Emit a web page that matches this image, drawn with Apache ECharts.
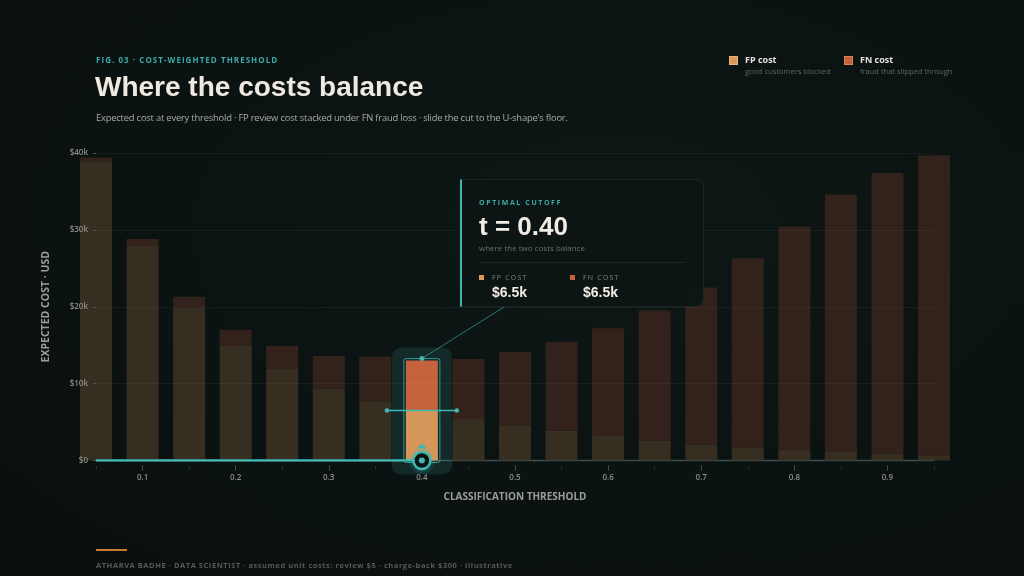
<!DOCTYPE html>
<html>
<head>
<meta charset="utf-8">
<title>Where the costs balance</title>
<script src="https://cdn.jsdelivr.net/npm/echarts@6/dist/echarts.min.js"></script>
<style>
  html, body {
    margin: 0;
    padding: 0;
    background: #0b1312;
    overflow: hidden;
  }
  .page {
    position: relative;
    width: 1024px;
    height: 576px;
    background: radial-gradient(ellipse at 60% 40%, #0d1716 0%, #0b1312 55%, #090f0e 100%);
  }
  #chart {
    position: absolute;
    left: 0;
    top: 0;
    width: 1024px;
    height: 576px;
  }
  .t {
    position: absolute;
    white-space: nowrap;
    line-height: 1;
    font-family: "Open Sans", sans-serif;
    pointer-events: none;
  }
  .caps {
    font-weight: 700;
    text-transform: uppercase;
  }
  .sq {
    position: absolute;
    box-sizing: border-box;
  }
  .card {
    position: absolute;
    left: 460px;
    top: 179px;
    width: 244px;
    height: 128px;
    box-sizing: border-box;
    background: rgba(12, 22, 21, 0.96);
    border: 1px solid rgba(255, 255, 255, 0.07);
    border-left: 2px solid #3fb8b3;
    border-radius: 0 8px 8px 0;
  }
</style>
</head>
<body>
<div class="page">
  <div id="chart"></div>

  <!-- header -->
  <div class="t caps" style="left:96px;top:56px;font-size:8px;letter-spacing:1.05px;color:#3aa9a6;">Fig. 03 · Cost-weighted threshold</div>
  <div class="t" style="left:95px;top:73px;font-size:28px;font-weight:700;font-family:'Liberation Sans',Arial,sans-serif;color:#efe9e0;">Where the costs balance</div>
  <div class="t" style="left:96px;top:113px;font-size:9.4px;letter-spacing:-0.2px;color:#a8aaa5;">Expected cost at every threshold · FP review cost stacked under FN fraud loss · slide the cut to the U-shape's floor.</div>

  <!-- legend -->
  <div class="sq" style="left:729px;top:56px;width:9px;height:9px;background:#d99858;border:1px solid #eab07a;"></div>
  <div class="t" style="left:745px;top:54.5px;font-size:9px;font-weight:700;color:#e6e1d8;">FP cost</div>
  <div class="t" style="left:745px;top:68px;font-size:7.5px;color:#5f6461;">good customers blocked</div>
  <div class="sq" style="left:844px;top:56px;width:9px;height:9px;background:#c6623b;border:1px solid #de8058;"></div>
  <div class="t" style="left:860px;top:54.5px;font-size:9px;font-weight:700;color:#e6e1d8;">FN cost</div>
  <div class="t" style="left:860px;top:68px;font-size:7.5px;color:#5f6461;">fraud that slipped through</div>

  <!-- callout card -->
  <div class="card">
    <div class="t caps" style="left:17px;top:19px;font-size:7px;letter-spacing:1.6px;color:#3aa9a6;">Optimal cutoff</div>
    <div class="t" id="cardT" style="left:17px;top:33px;font-size:26px;font-weight:700;font-family:'Liberation Sans',Arial,sans-serif;color:#f1ece4;"></div>
    <div class="t" style="left:17px;top:63.5px;font-size:8px;color:#6a6e6b;">where the two costs balance</div>
    <div style="position:absolute;left:17px;top:82px;width:207px;height:1px;background:rgba(255,255,255,0.08);"></div>
    <div class="sq" style="left:17px;top:94.5px;width:5px;height:5px;background:#d99858;"></div>
    <div class="t caps" style="left:30px;top:93.5px;font-size:7px;font-weight:400;letter-spacing:1.2px;color:#7e817d;">FP cost</div>
    <div class="t" id="cardFP" style="left:30px;top:104.5px;font-size:14px;font-weight:700;font-family:'Liberation Sans',Arial,sans-serif;color:#f1ece4;"></div>
    <div class="sq" style="left:108px;top:94.5px;width:5px;height:5px;background:#c6623b;"></div>
    <div class="t caps" style="left:121px;top:93.5px;font-size:7px;font-weight:400;letter-spacing:1.2px;color:#7e817d;">FN cost</div>
    <div class="t" id="cardFN" style="left:121px;top:104.5px;font-size:14px;font-weight:700;font-family:'Liberation Sans',Arial,sans-serif;color:#f1ece4;"></div>
  </div>

  <!-- footer -->
  <div style="position:absolute;left:96px;top:549px;width:31px;height:2px;background:#c77a30;"></div>
  <div class="t" style="left:96px;top:561.5px;font-size:7.5px;font-weight:700;letter-spacing:0.55px;color:#565b58;">ATHARVA BADHE · DATA SCIENTIST · assumed unit costs: review $5 · charge-back $300 · illustrative</div>
</div>

<script>
// thresholds (x categories) and expected cost per threshold, USD
const thresholds = ['0.05', '0.10', '0.15', '0.20', '0.25', '0.30', '0.35', '0.40', '0.45', '0.50',
  '0.55', '0.60', '0.65', '0.70', '0.75', '0.80', '0.85', '0.90', '0.95']
const fpCost = [38900, 27900, 19900, 14900, 11900, 9400, 7700, 6500, 5400, 4600,
  3900, 3300, 2600, 2100, 1700, 1400, 1100, 900, 650]
const fnCost = [500, 900, 1400, 2100, 3000, 4200, 5800, 6500, 7800, 9500,
  11500, 13900, 16900, 20400, 24600, 29000, 33500, 36500, 39050]
const optimalT = '0.40'

// colours
const TEAL = '#3fb8b3'
const FP_DIM = '#372e22'
const FN_DIM = '#33221b'
const FP_HI = '#d69659'
const FN_HI = '#c4633d'
const AXIS_TEXT = '#8c8e89'

// where the connector meets the callout card (pixels)
const cardAnchor = [504, 307]

const opt = thresholds.indexOf(optimalT)
const fmtK = v => '$' + (v / 1000).toFixed(1) + 'k'

document.getElementById('cardT').textContent = 't = ' + optimalT
document.getElementById('cardFP').textContent = fmtK(fpCost[opt])
document.getElementById('cardFN').textContent = fmtK(fnCost[opt])

// highlighted panel behind the optimal bar
function renderPanel(params, api) {
  const base = api.coord([api.value(0), 0])
  const top = api.coord([api.value(0), api.value(2)])
  return {
    type: 'rect',
    shape: { x: base[0] - 30, y: top[1] - 13, width: 60, height: base[1] - top[1] + 27, r: 9 },
    style: { fill: 'rgba(58,168,163,0.15)' }
  }
}

// outline, balance marker, connector and slider knob
function renderFront(params, api) {
  const base = api.coord([api.value(0), 0])
  const mid = api.coord([api.value(0), api.value(1)])
  const top = api.coord([api.value(0), api.value(2)])
  const x = base[0]
  const y0 = base[1]
  return {
    type: 'group',
    children: [
      { type: 'rect', shape: { x: x - 18, y: top[1] - 2, width: 36, height: y0 - top[1] + 4, r: 2 },
        style: { fill: 'none', stroke: 'rgba(63,184,179,0.75)', lineWidth: 1 } },
      { type: 'line', shape: { x1: x, y1: top[1] - 2, x2: cardAnchor[0], y2: cardAnchor[1] },
        style: { stroke: 'rgba(63,184,179,0.6)', lineWidth: 1 } },
      { type: 'circle', shape: { cx: x, cy: top[1] - 2, r: 2.5 }, style: { fill: TEAL } },
      { type: 'line', shape: { x1: x - 35, y1: mid[1], x2: x + 35, y2: mid[1] },
        style: { stroke: TEAL, lineWidth: 1.5 } },
      { type: 'circle', shape: { cx: x - 35, cy: mid[1], r: 2.2 }, style: { fill: TEAL } },
      { type: 'circle', shape: { cx: x + 35, cy: mid[1], r: 2.2 }, style: { fill: TEAL } },
      { type: 'polygon', shape: { points: [[x - 5, y0 - 12], [x + 5, y0 - 12], [x, y0 - 17]] },
        style: { fill: TEAL } },
      { type: 'circle', shape: { cx: x, cy: y0, r: 13 }, style: { fill: 'rgba(63,184,179,0.16)' } },
      { type: 'circle', shape: { cx: x, cy: y0, r: 8.5 }, style: { fill: '#0b1413', stroke: TEAL, lineWidth: 2.5 } },
      { type: 'circle', shape: { cx: x, cy: y0, r: 3 }, style: { fill: TEAL } }
    ]
  }
}

const chart = echarts.init(document.getElementById('chart'), null, { renderer: 'canvas' })

chart.setOption({
  animation: false,
  backgroundColor: 'transparent',
  textStyle: { fontFamily: 'Open Sans' },
  grid: { left: 96, right: 90, top: 153, bottom: 115.5 },
  xAxis: [
    {
      // axis line only
      type: 'category',
      data: thresholds,
      boundaryGap: false,
      axisLine: { lineStyle: { color: 'rgba(120,150,150,0.4)', width: 1.3 } },
      axisTick: { show: false },
      axisLabel: { show: false }
    },
    {
      // major ticks + labels every 0.1
      type: 'category',
      data: thresholds,
      boundaryGap: false,
      position: 'bottom',
      offset: 5,
      axisLine: { show: false },
      axisTick: { show: true, length: 5, interval: i => i % 2 === 1, lineStyle: { color: '#4d5654' } },
      axisLabel: {
        interval: i => i % 2 === 1,
        formatter: v => String(parseFloat(v)),
        color: AXIS_TEXT, fontSize: 8, fontWeight: 600, margin: 8
      },
      name: 'CLASSIFICATION THRESHOLD',
      nameLocation: 'middle',
      nameGap: 27,
      nameTextStyle: { color: '#9c9e99', fontSize: 10, fontWeight: 700 }
    },
    {
      // minor ticks every 0.05
      type: 'category',
      data: thresholds,
      boundaryGap: false,
      position: 'bottom',
      offset: 6,
      axisLine: { show: false },
      axisTick: { show: true, length: 2, interval: 0, lineStyle: { color: '#3b4442' } },
      axisLabel: { show: false }
    }
  ],
  yAxis: {
    type: 'value',
    z: 10,
    min: 0,
    max: 40000,
    interval: 10000,
    axisLine: { show: false },
    axisTick: { show: true, length: 3, lineStyle: { color: '#4d5654' } },
    axisLabel: {
      formatter: v => v === 0 ? '$0' : '$' + v / 1000 + 'k',
      color: AXIS_TEXT, fontSize: 8, fontWeight: 600, margin: 8
    },
    splitLine: { lineStyle: { color: 'rgba(255,255,255,0.045)' } },
    name: 'EXPECTED COST · USD',
    nameLocation: 'middle',
    nameGap: 44,
    nameRotate: 90,
    nameTextStyle: { color: '#9c9e99', fontSize: 10.5, fontWeight: 700 }
  },
  series: [
    {
      type: 'custom',
      z: 1,
      renderItem: renderPanel,
      data: [[opt, fpCost[opt], fpCost[opt] + fnCost[opt]]]
    },
    {
      name: 'FP cost',
      type: 'bar',
      stack: 'cost',
      z: 2,
      barWidth: 32,
      clip: false,
      itemStyle: { color: FP_DIM },
      data: fpCost.map((v, i) => i === opt ? { value: v, itemStyle: { color: FP_HI } } : v)
    },
    {
      name: 'FN cost',
      type: 'bar',
      stack: 'cost',
      z: 2,
      barWidth: 32,
      clip: false,
      itemStyle: { color: FN_DIM },
      data: fnCost.map((v, i) => i === opt ? { value: v, itemStyle: { color: FN_HI } } : v)
    },
    {
      // slider track up to the chosen cut
      type: 'line',
      z: 3,
      symbol: 'none',
      silent: true,
      lineStyle: { color: TEAL, width: 2.5 },
      data: [[0, 0], [opt, 0]]
    },
    {
      type: 'custom',
      z: 4,
      renderItem: renderFront,
      data: [[opt, fpCost[opt], fpCost[opt] + fnCost[opt]]]
    }
  ]
})
</script>
</body>
</html>
